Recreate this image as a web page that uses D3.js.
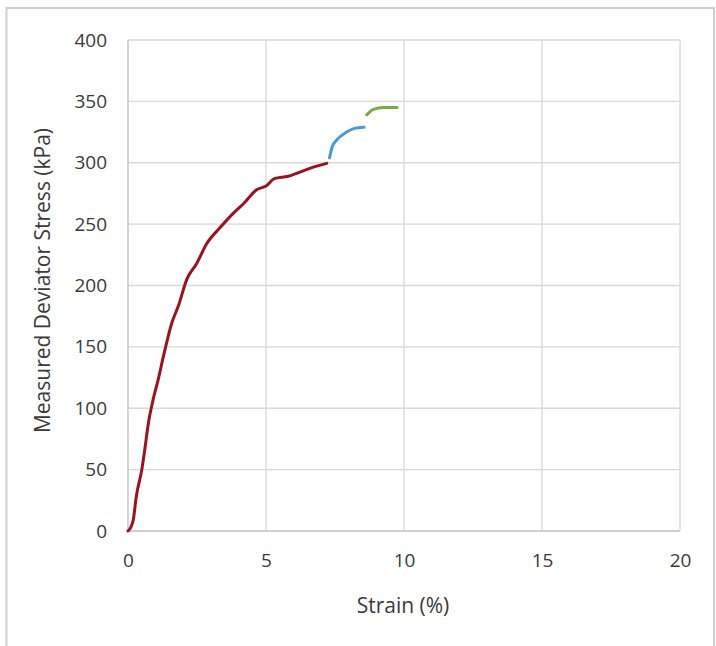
<!DOCTYPE html>
<html>
<head>
<meta charset="utf-8">
<script src="https://cdn.jsdelivr.net/npm/d3@7"></script>
<style>
  body { margin: 0; background: #fff; }
  svg text { font-family: "Open Sans", "Noto Sans", sans-serif; fill: #3a3a3a; }
</style>
</head>
<body>
<script>
// strain (%) and deviator stress (kPa) for each loading stage
const redStrain = [0, 0.1, 0.19, 0.3, 0.5, 0.6, 0.74, 0.9, 1.1, 1.28, 1.45, 1.58, 1.82, 2.13, 2.49, 2.85, 3.33, 3.82, 4.2, 4.66, 5.0, 5.3, 5.8, 6.3, 6.8, 7.2];
const redStress = [0, 3, 9, 28, 50, 65, 88, 106, 124, 142, 158, 169, 183, 205, 218, 234, 247, 259, 267, 278, 281, 287, 289, 293, 297, 299.5];
const blueStrain = [7.3, 7.4, 7.56, 7.92, 8.2, 8.55];
const blueStress = [304, 313, 318.5, 325, 328, 329];
const greenStrain = [8.65, 8.89, 9.25, 9.75];
const greenStress = [339, 343.5, 345, 345];

const xTicks = [0, 5, 10, 15, 20];
const yTicks = [0, 50, 100, 150, 200, 250, 300, 350, 400];

const width = 716, height = 646;
const margin = {top: 40, right: 36, bottom: 115, left: 128};

const svg = d3.select("body").append("svg").attr("width", width).attr("height", height);

// outer frame
svg.append("rect")
  .attr("x", 6.5).attr("y", 8).attr("width", 707.5).attr("height", 660)
  .attr("fill", "none").attr("stroke", "#d0d0d0").attr("stroke-width", 2);

const x = d3.scaleLinear().domain([0, 20]).range([margin.left, width - margin.right]);
const y = d3.scaleLinear().domain([0, 400]).range([height - margin.bottom, margin.top]);

// gridlines
svg.append("g").selectAll("line").data(yTicks).enter().append("line")
  .attr("x1", x(0)).attr("x2", x(20))
  .attr("y1", d => y(d)).attr("y2", d => y(d))
  .attr("stroke", d => d === 0 ? "#bfbfbf" : "#d9d9d9").attr("stroke-width", 1.3);
svg.append("g").selectAll("line").data(xTicks).enter().append("line")
  .attr("x1", d => x(d)).attr("x2", d => x(d))
  .attr("y1", y(0)).attr("y2", y(400))
  .attr("stroke", d => d === 0 ? "#bfbfbf" : "#d9d9d9").attr("stroke-width", 1.3);

// axes (labels only)
const xAxis = d3.axisBottom(x).tickValues(xTicks).tickSize(0).tickPadding(23);
const yAxis = d3.axisLeft(y).tickValues(yTicks).tickSize(0).tickPadding(21);

svg.append("g").attr("transform", "translate(0," + y(0) + ")").call(xAxis)
  .call(g => g.select(".domain").remove())
  .selectAll("text").style("font-size", "19px").attr("fill", "#3a3a3a");
svg.append("g").attr("transform", "translate(" + x(0) + ",0)").call(yAxis)
  .call(g => g.select(".domain").remove())
  .selectAll("text").style("font-size", "19px").attr("fill", "#3a3a3a");

svg.append("text")
  .attr("x", 403).attr("y", 613)
  .attr("text-anchor", "middle").style("font-size", "21px")
  .text("Strain (%)");
svg.append("text")
  .attr("transform", "translate(50," + (y(200) - 5) + ") rotate(-90)")
  .attr("text-anchor", "middle").style("font-size", "21px")
  .text("Measured Deviator Stress (kPa)");

const line = d3.line().x(d => x(d[0])).y(d => y(d[1]));

const series = [
  {strain: redStrain, stress: redStress, color: "#9a1220"},
  {strain: blueStrain, stress: blueStress, color: "#4a9ad6"},
  {strain: greenStrain, stress: greenStress, color: "#76ad42"}
];

series.forEach(s => {
  svg.append("path")
    .datum(d3.zip(s.strain, s.stress))
    .attr("d", line.curve(d3.curveMonotoneX))
    .attr("fill", "none")
    .attr("stroke", s.color)
    .attr("stroke-width", 3)
    .attr("stroke-linecap", "round");
});
</script>
</body>
</html>
